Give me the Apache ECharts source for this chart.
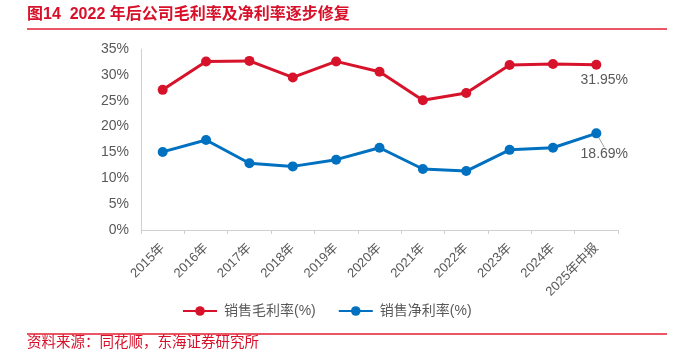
<!DOCTYPE html>
<html><head><meta charset="utf-8">
<script src="https://cdn.jsdelivr.net/npm/echarts@6/dist/echarts.min.js"></script>
<style>html,body{margin:0;padding:0;background:#fff}#c{width:686px;height:356px}</style>
</head><body><div id="c"></div>
<script>
const categories = ['2015年','2016年','2017年','2018年','2019年','2020年','2021年','2022年','2023年','2024年','2025年中报'];
const grossMargin = [27.1, 32.6, 32.7, 29.5, 32.6, 30.6, 25.1, 26.5, 31.9, 32.1, 31.95];
const netMargin = [15.1, 17.4, 12.9, 12.3, 13.6, 15.9, 11.8, 11.4, 15.5, 15.9, 18.69];
const seriesNames = ['销售毛利率(%)', '销售净利率(%)'];
const titleText = '图14  2022 年后公司毛利率及净利率逐步修复';
const sourceText = '资料来源：同花顺，东海证券研究所';

const FONT = '"Liberation Sans", Arial, "Noto Sans CJK SC", sans-serif';
const RED = '#d7132b';
const BLUE = '#0070c0';
const GRAY = '#595959';
const chart = echarts.init(document.getElementById('c'));
const n = categories.length;
chart.setOption({
  animation: false,
  textStyle: { fontFamily: FONT },
  graphic: [
    { type: 'text', left: 27, top: 7, style: { text: titleText, fill: '#d8102a', font: 'bold 16px ' + FONT } },
    { type: 'line', shape: { x1: 27, y1: 29, x2: 667, y2: 29 }, style: { stroke: '#e51e32', lineWidth: 1.5 } },
    { type: 'line', shape: { x1: 27, y1: 334, x2: 667, y2: 334 }, style: { stroke: '#e51e32', lineWidth: 1.5 } },
    { type: 'text', left: 27, top: 336, style: { text: sourceText, fill: '#d8102a', font: '14.5px ' + FONT } }
  ],
  legend: {
    bottom: 33, left: 177, itemGap: 22, itemWidth: 34, itemHeight: 12,
    textStyle: { color: GRAY, fontSize: 14, fontFamily: FONT, padding: [0, 0, 0, 2] },
    data: seriesNames
  },
  grid: { left: 141, right: 68, top: 49, bottom: 126 },
  xAxis: {
    type: 'category', data: categories, boundaryGap: true,
    axisLine: { lineStyle: { color: '#d0d0d0', width: 1 } },
    axisTick: { show: true, length: 4, lineStyle: { color: '#d0d0d0' } },
    axisLabel: { rotate: 45, color: GRAY, fontSize: 13, margin: 16, interval: 0, fontFamily: FONT }
  },
  yAxis: {
    type: 'value', min: 0, max: 35, interval: 5,
    axisLine: { show: true, lineStyle: { color: '#d0d0d0' } },
    axisTick: { show: false },
    splitLine: { show: false },
    axisLabel: { color: GRAY, fontSize: 14, margin: 12, formatter: '{value}%', fontFamily: FONT }
  },
  series: [
    {
      name: seriesNames[0], type: 'line', data: grossMargin.map((v, i) => i === n - 1 ? {
        value: v, label: { show: true, position: 'inside', offset: [8, 15], formatter: v.toFixed(2) + '%', color: GRAY, fontSize: 14 }
      } : v),
      symbol: 'circle', symbolSize: 10, color: RED,
      lineStyle: { width: 3, color: RED }, itemStyle: { color: RED }
    },
    {
      name: seriesNames[1], type: 'line', data: netMargin.map((v, i) => i === n - 1 ? {
        value: v, label: { show: true, position: 'inside', formatter: v.toFixed(2) + '%', color: GRAY, fontSize: 14 },
        labelLine: { show: true, lineStyle: { color: '#a0a0a0', width: 1 } }
      } : v),
      labelLayout: (p) => p.dataIndex === n - 1 ? { dx: 8, dy: 21 } : {},
      labelLine: { show: true, lineStyle: { color: '#a0a0a0', width: 1 } },
      symbol: 'circle', symbolSize: 10, color: BLUE,
      lineStyle: { width: 3, color: BLUE }, itemStyle: { color: BLUE }
    }
  ]
});
</script></body></html>
